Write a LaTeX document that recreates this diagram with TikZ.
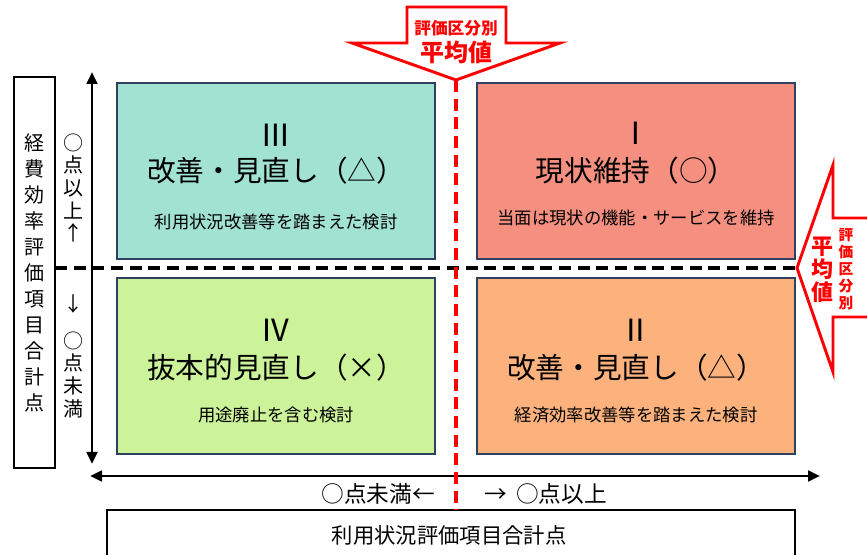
\documentclass[tikz,border=0pt]{standalone}
\usepackage{fontspec}
\setmainfont{Noto Sans CJK JP}
\usepackage{tikz}
\usetikzlibrary{arrows.meta}
\definecolor{boxline}{HTML}{2F4060}
\definecolor{quadA}{HTML}{A2E2D2}
\definecolor{quadB}{HTML}{F59080}
\definecolor{quadC}{HTML}{CCF29A}
\definecolor{quadD}{HTML}{FDB27E}
\definecolor{avgred}{HTML}{FF0000}

\begin{document}
\begin{tikzpicture}[x=0.75pt,y=-0.75pt,
		quad/.style={draw=boxline,line width=1.5pt,minimum width=239pt,minimum height=132pt,inner sep=0pt},
		roman/.style={font=\fontsize{23}{23}\selectfont},
		verdict/.style={font=\fontsize{21.5}{21.5}\selectfont},
		remark/.style={font=\fontsize{13}{13}\selectfont},
		axis/.style={line width=2pt,{Triangle[length=9pt,width=8pt]}-{Triangle[length=9pt,width=8pt]}},
		blockarrow/.style={draw=avgred,fill=white,line width=2.2pt,line join=miter},
		redtext/.style={text=avgred,font=\bfseries}]
		\useasboundingbox (0,0) rectangle (867,555);
		% four quadrants
		\node[quad,fill=quadA] (q3) at (276,171) {};
		\node[quad,fill=quadB] (q1) at (636,171) {};
		\node[quad,fill=quadC] (q4) at (276,366) {};
		\node[quad,fill=quadD] (q2) at (636,366) {};
		\node[roman] (q3num) at ([yshift=27pt]q3.center) {Ⅲ};
		\node[verdict] (q3title) at ([yshift=0pt]q3.center) {改善・見直し（△）};
		\node[remark] (q3note) at ([yshift=-38pt]q3.center) {利用状況改善等を踏まえた検討};
		\node[roman] (q1num) at ([yshift=28pt]q1.center) {Ⅰ};
		\node[verdict] (q1title) at ([yshift=0pt]q1.center) {現状維持（○）};
		\node[remark] (q1note) at ([yshift=-35pt]q1.center) {当面は現状の機能・サービスを維持};
		\node[roman] (q4num) at ([yshift=27pt]q4.center) {Ⅳ};
		\node[verdict] (q4title) at ([yshift=-1pt]q4.center) {抜本的見直し（×）};
		\node[remark] (q4note) at ([yshift=-37pt]q4.center) {用途廃止を含む検討};
		\node[roman] (q2num) at ([yshift=27pt]q2.center) {Ⅱ};
		\node[verdict] (q2title) at ([yshift=-1pt]q2.center) {改善・見直し（△）};
		\node[remark] (q2note) at ([yshift=-37pt]q2.center) {経済効率改善等を踏まえた検討};
		% vertical axis
		\node[draw,line width=1.2pt,minimum width=31pt,minimum height=293pt,inner sep=0pt] (ybox) at (34.5,272.5) {};
		\node[align=center,font=\fontsize{15}{19.5}\selectfont] (ylabel) at (ybox.center) {経\\費\\効\\率\\評\\価\\項\\目\\合\\計\\点};
		\node[align=center,font=\fontsize{15}{16.9}\selectfont] (yhigh) at (73,188) {○\\点\\以\\上\\↑};
		\node[align=center,font=\fontsize{15}{16.9}\selectfont] (ylow) at (73,356) {↓\\[11pt]○\\点\\未\\満};
		\coordinate (ytop) at (92,72);
		\coordinate (ybot) at (92,464);
		\draw[axis] (ybot) -- (ytop);
		% horizontal axis
		\node[draw,line width=1.2pt,minimum width=516pt,minimum height=45pt,inner sep=0pt] (xbox) at (451,540) {};
		\node[font=\fontsize{16}{16}\selectfont] (xlabel) at (449,535) {利用状況評価項目合計点};
		\node[anchor=east,font=\fontsize{17}{17}\selectfont,inner sep=0pt] (xlow) at (435,494) {○点未満←};
		\node[anchor=west,font=\fontsize{17}{17}\selectfont,inner sep=0pt] (xhigh) at (484,494) {→\hspace{7pt}○点以上};
		\coordinate (xleft) at (90,476);
		\coordinate (xright) at (820,476);
		\draw[axis] (xleft) -- (xright);
		% average lines
		\coordinate (hl) at (55,268);
		\coordinate (hr) at (797,268);
		\draw[line width=2.4pt,dash pattern=on 9pt off 5pt] (hl) -- (hr);
		\coordinate (vt) at (456,80);
		\coordinate (vb) at (456,510);
		\draw[avgred,line width=2.4pt,dash pattern=on 9pt off 5pt] (vt) -- (vb);
		% red block arrows
		\draw[blockarrow] (407,7) -- (506,7) -- (506,43) -- (560,43) -- (vt) -- (352,43) -- (407,43) -- cycle;
		\node[redtext,font=\bfseries\fontsize{12.5}{12.5}\selectfont] (tsub) at (456,28) {評価区分別};
		\node[redtext,font=\bfseries\fontsize{18}{18}\selectfont] (tavg) at (456,52) {平均値};
		\draw[blockarrow] (872,218) -- (833,218) -- (833,165) -- (hr) -- (833,372) -- (833,317) -- (872,317);
		\node[redtext,align=center,font=\bfseries\fontsize{16.5}{17.2}\selectfont] (ravg) at (822,270) {平\\均\\値};
		\node[redtext,align=center,font=\bfseries\fontsize{11}{12.8}\selectfont] (rsub) at (846,269) {評\\価\\区\\分\\別};
	\end{tikzpicture}
\end{document}
